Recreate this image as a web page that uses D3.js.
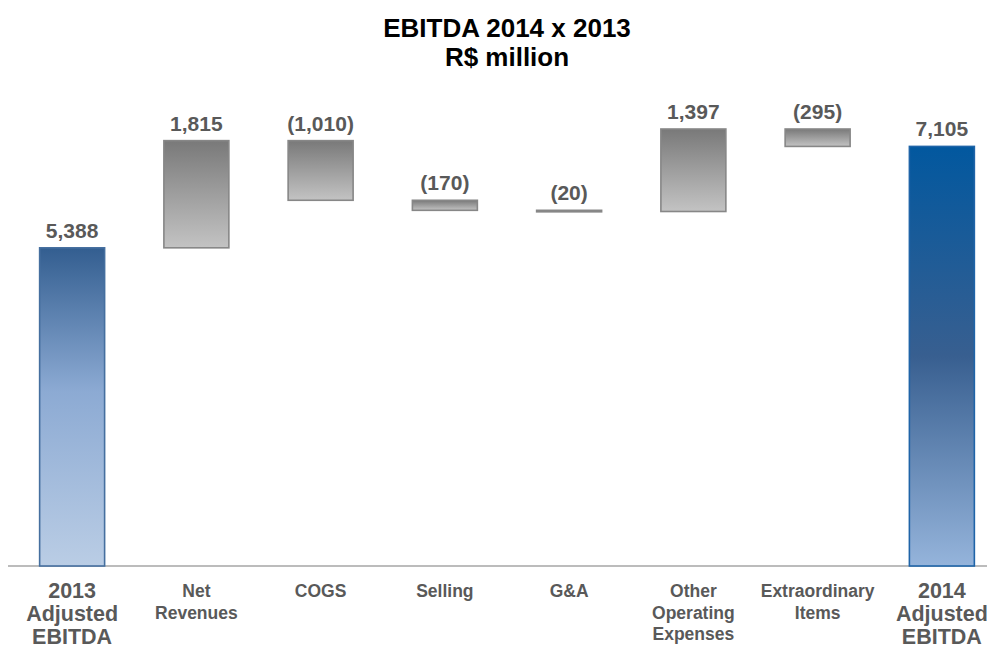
<!DOCTYPE html>
<html>
<head>
<meta charset="utf-8">
<script src="https://cdn.jsdelivr.net/npm/d3@7"></script>
<style>
  html, body { margin: 0; padding: 0; background: #fff; }
  svg { display: block; font-family: "Liberation Sans", Arial, sans-serif; }
</style>
</head>
<body>
<svg id="chart" width="987" height="648"></svg>
<script>
// EBITDA bridge, R$ million
const categories = ["2013 Adjusted EBITDA", "Net Revenues", "COGS", "Selling", "G&A",
                    "Other Operating Expenses", "Extraordinary Items", "2014 Adjusted EBITDA"];
const labelLines = [["2013", "Adjusted", "EBITDA"], ["Net", "Revenues"], ["COGS"], ["Selling"], ["G&A"],
                    ["Other", "Operating", "Expenses"], ["Extraordinary", "Items"], ["2014", "Adjusted", "EBITDA"]];
const kinds = ["total", "delta", "delta", "delta", "delta", "delta", "delta", "total"];
const values = [5388, 1815, -1010, -170, -20, 1397, -295, 7105];
const valueLabels = ["5,388", "1,815", "(1,010)", "(170)", "(20)", "1,397", "(295)", "7,105"];

// cumulative start/end for each step
let running = 0;
const bars = categories.map((c, i) => {
  let y0, y1;
  if (kinds[i] === "total") { y0 = 0; y1 = values[i]; running = values[i]; }
  else { y0 = running; y1 = running + values[i]; running = y1; }
  return { cat: c, i, kind: kinds[i], lo: Math.min(y0, y1), hi: Math.max(y0, y1), label: valueLabels[i], lines: labelLines[i] };
});

const svg = d3.select("#chart");
const baseY = 566;

const x = d3.scaleBand().domain(categories).range([10, 1004])
  .paddingInner(0.477).paddingOuter(0.2385);
const y = d3.scaleLinear().domain([0, 7400]).range([baseY, 129]);

const defs = svg.append("defs");
const grayGrad = defs.append("linearGradient").attr("id", "gGray")
  .attr("x1", 0).attr("y1", 0).attr("x2", 0).attr("y2", 1);
grayGrad.append("stop").attr("offset", "0%").attr("stop-color", "#797979");
grayGrad.append("stop").attr("offset", "100%").attr("stop-color", "#c3c3c3");

const blue13 = defs.append("linearGradient").attr("id", "gBlue0")
  .attr("x1", 0).attr("y1", 0).attr("x2", 0).attr("y2", 1);
blue13.append("stop").attr("offset", "0%").attr("stop-color", "#335e90");
blue13.append("stop").attr("offset", "45%").attr("stop-color", "#8caad3");
blue13.append("stop").attr("offset", "100%").attr("stop-color", "#bacde5");

const blue14 = defs.append("linearGradient").attr("id", "gBlue7")
  .attr("x1", 0).attr("y1", 0).attr("x2", 0).attr("y2", 1);
blue14.append("stop").attr("offset", "0%").attr("stop-color", "#02589f");
blue14.append("stop").attr("offset", "50%").attr("stop-color", "#385f90");
blue14.append("stop").attr("offset", "100%").attr("stop-color", "#95b4db");

// title
const title = svg.append("g").attr("font-weight", "bold").attr("fill", "#000")
  .attr("text-anchor", "middle").attr("font-size", 26);
title.append("text").attr("x", 507).attr("y", 37).text("EBITDA 2014 x 2013");
title.append("text").attr("x", 507).attr("y", 66).text("R$ million");

// baseline
svg.append("line").attr("x1", 8).attr("x2", 987).attr("y1", baseY).attr("y2", baseY)
  .attr("stroke", "#a6a6a6").attr("stroke-width", 1.5);

// bars
svg.append("g").selectAll("rect").data(bars).join("rect")
  .attr("x", d => x(d.cat))
  .attr("width", x.bandwidth())
  .attr("y", d => y(d.hi))
  .attr("height", d => Math.max(1.5, y(d.lo) - y(d.hi)))
  .attr("fill", d => d.kind === "total" ? `url(#gBlue${d.i})` : "url(#gGray)")
  .attr("stroke", d => d.kind === "total" ? (d.i === 0 ? "#456f9f" : "#1f64a8") : "#878787")
  .attr("stroke-width", 1.6);

// value labels
svg.append("g").selectAll("text").data(bars).join("text")
  .attr("x", d => x(d.cat) + x.bandwidth() / 2)
  .attr("y", d => y(d.hi) - 10)
  .attr("text-anchor", "middle")
  .attr("font-size", 21).attr("font-weight", "bold").attr("fill", "#595959")
  .text(d => d.label);

// category labels
const cats = svg.append("g").selectAll("text").data(bars).join("text")
  .attr("text-anchor", "middle")
  .attr("font-weight", "bold").attr("fill", "#595959")
  .attr("font-size", d => d.kind === "total" ? 21.5 : 17.5);
cats.each(function(d) {
  const big = d.kind === "total";
  const cx = x(d.cat) + x.bandwidth() / 2;
  const first = big ? 598 : 597;
  const lh = big ? 23 : 21.5;
  d3.select(this).selectAll("tspan").data(d.lines).join("tspan")
    .attr("x", cx).attr("y", (t, k) => first + k * lh).text(t => t);
});
</script>
</body>
</html>
